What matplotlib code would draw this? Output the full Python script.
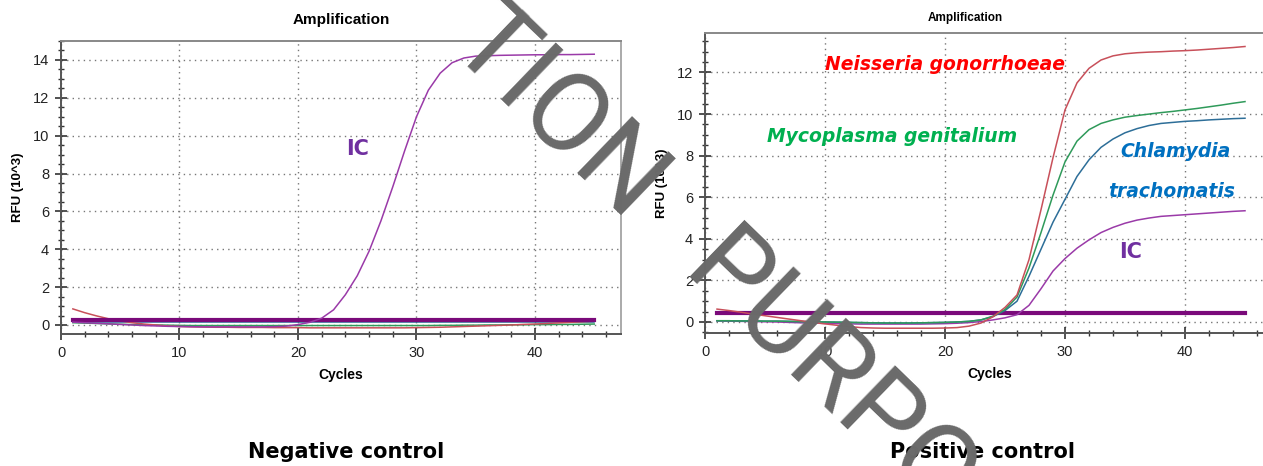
import numpy as np
import matplotlib
matplotlib.use("Agg")
import matplotlib.pyplot as plt
from matplotlib.ticker import MultipleLocator

# ---- data (RFU x10^3 per cycle) ----
cycles = np.arange(1, 46)

neg_ic = [0.15, 0.12, 0.09, 0.06, 0.03, 0.0, -0.03, -0.05, -0.07, -0.08,
          -0.09, -0.1, -0.1, -0.1, -0.1, -0.1, -0.1, -0.09, -0.06, 0.02,
          0.14, 0.36, 0.8, 1.6, 2.6, 3.9, 5.5, 7.3, 9.2, 11.0,
          12.4, 13.3, 13.85, 14.1, 14.2, 14.22, 14.24, 14.25, 14.26, 14.27,
          14.27, 14.28, 14.28, 14.29, 14.3]
neg_red = [0.85, 0.65, 0.48, 0.33, 0.22, 0.12, 0.05, 0.0, -0.05, -0.08,
           -0.1, -0.11, -0.12, -0.12, -0.13, -0.13, -0.13, -0.14, -0.14, -0.14,
           -0.15, -0.15, -0.15, -0.15, -0.15, -0.15, -0.15, -0.15, -0.15, -0.14,
           -0.13, -0.12, -0.1, -0.08, -0.06, -0.04, -0.02, 0.0, 0.03, 0.05,
           0.08, 0.11, 0.14, 0.17, 0.2]
neg_green = [0.12, 0.1, 0.08, 0.06, 0.04, 0.02, 0.01, 0.0, -0.01, -0.02,
             -0.03, -0.03, -0.03, -0.03, -0.03, -0.03, -0.03, -0.03, -0.03, -0.03,
             -0.03, -0.03, -0.03, -0.03, -0.03, -0.03, -0.03, -0.03, -0.03, -0.03,
             -0.03, -0.02, -0.02, -0.01, -0.01, 0.0, 0.0, 0.01, 0.01, 0.02,
             0.02, 0.03, 0.03, 0.04, 0.05]
neg_blue = [0.14] * 45
neg_threshold = 0.28

pos_red = [0.62, 0.55, 0.47, 0.38, 0.3, 0.22, 0.14, 0.06, -0.02, -0.09,
           -0.16, -0.22, -0.27, -0.29, -0.3, -0.3, -0.3, -0.3, -0.3, -0.29,
           -0.27, -0.2, -0.05, 0.25, 0.7, 1.3, 3.0, 5.4, 7.9, 10.2,
           11.5, 12.2, 12.6, 12.8, 12.9, 12.95, 12.98, 13.0, 13.03, 13.05,
           13.08, 13.12, 13.16, 13.2, 13.25]
pos_green = [0.06, 0.06, 0.05, 0.05, 0.04, 0.04, 0.03, 0.02, 0.01, 0.0,
             -0.01, -0.02, -0.03, -0.04, -0.05, -0.05, -0.05, -0.04, -0.03, -0.02,
             0.0, 0.03, 0.1, 0.28, 0.6, 1.2, 2.6, 4.3, 6.1, 7.7,
             8.7, 9.25, 9.55, 9.72, 9.85, 9.93, 10.0, 10.07, 10.13, 10.2,
             10.27, 10.35, 10.43, 10.52, 10.6]
pos_blue = [0.06, 0.06, 0.05, 0.05, 0.04, 0.04, 0.03, 0.02, 0.01, 0.0,
            -0.01, -0.02, -0.03, -0.04, -0.05, -0.05, -0.05, -0.04, -0.03, -0.02,
            0.0, 0.03, 0.1, 0.26, 0.55, 1.0, 2.2, 3.5, 4.8, 5.9,
            7.0, 7.8, 8.4, 8.8, 9.1, 9.3, 9.45, 9.55, 9.6, 9.65,
            9.68, 9.72, 9.75, 9.78, 9.8]
pos_ic = [0.05, 0.04, 0.03, 0.02, 0.01, 0.0, -0.02, -0.04, -0.05, -0.07,
          -0.08, -0.09, -0.1, -0.1, -0.1, -0.1, -0.1, -0.1, -0.09, -0.08,
          -0.06, -0.03, 0.02, 0.1, 0.2, 0.35, 0.8, 1.6, 2.45, 3.05,
          3.55, 3.95, 4.3, 4.55, 4.75, 4.9, 5.0, 5.08, 5.12, 5.16,
          5.2, 5.24, 5.28, 5.32, 5.35]
pos_threshold = 0.42

RED_LINE = "#c8505a"
GREEN_LINE = "#2f9a5a"
BLUE_LINE = "#2d6e98"
IC_LINE = "#9a3aa8"
THRESH = "#7a0a7a"

TICK_FONT = "Liberation Sans"
W, H = 1263, 466


def style_axes(ax, xmax, ylim, yticks, title, title_size, title_pos):
    ax.set_xlim(0, xmax)
    ax.set_ylim(*ylim)
    ax.set_xticks([0, 10, 20, 30, 40])
    ax.set_yticks(yticks)
    ax.xaxis.set_minor_locator(MultipleLocator(2))
    ax.yaxis.set_minor_locator(MultipleLocator(0.5))
    ax.tick_params(which="major", direction="inout", length=9, width=1.2,
                   color="#333333", labelsize=10.5, pad=4)
    ax.tick_params(which="minor", direction="inout", length=5, width=1.0,
                   color="#333333")
    for lab in ax.get_xticklabels() + ax.get_yticklabels():
        lab.set_fontfamily(TICK_FONT)
        lab.set_color("#222222")
    for s in ax.spines.values():
        s.set_color("#555555")
        s.set_linewidth(1.4)
    ax.spines["top"].set_color("#888888")
    ax.spines["right"].set_color("#aaaaaa")
    ax.grid(True, which="major", linestyle=(0, (1, 3)), color="#777777",
            linewidth=1.0)
    ax.set_xlabel("Cycles", fontweight="bold", fontsize=10, family=TICK_FONT,
                  labelpad=6)
    ax.set_ylabel("RFU (10^3)", fontweight="bold", fontsize=9.5, family=TICK_FONT,
                  labelpad=6)
    ax.text(title_pos[0], title_pos[1], title, transform=ax.transAxes, ha="center",
            va="center", fontweight="bold", fontsize=title_size, family=TICK_FONT)


fig = plt.figure(figsize=(W / 100, H / 100), dpi=100)

# ---- negative control ----
ax1 = fig.add_axes([0.0483, 0.2833, 0.4434, 0.6288])
ax1.plot(cycles, neg_green, color=GREEN_LINE, lw=1.1)
ax1.plot(cycles, neg_blue, color=BLUE_LINE, lw=1.1)
ax1.plot(cycles, neg_red, color=RED_LINE, lw=1.1)
ax1.plot(cycles, [neg_threshold] * len(cycles), color=THRESH, lw=3.0)
ax1.plot(cycles, neg_ic, color=IC_LINE, lw=1.1)
style_axes(ax1, 47.26, (-0.475, 15.0), [0, 2, 4, 6, 8, 10, 12, 14],
           "Amplification", 11, (0.5, 1.072))
ax1.text(25.0, 9.3, "IC", color="#7030a0", fontweight="bold", fontsize=15,
         family="DejaVu Sans", ha="center", va="center")

# ---- positive control ----
ax2 = fig.add_axes([0.5582, 0.2854, 0.4513, 0.6438])
ax2.plot(cycles, [pos_threshold] * len(cycles), color=THRESH, lw=3.0)
ax2.plot(cycles, pos_ic, color=IC_LINE, lw=1.1)
ax2.plot(cycles, pos_blue, color=BLUE_LINE, lw=1.1)
ax2.plot(cycles, pos_green, color=GREEN_LINE, lw=1.1)
ax2.plot(cycles, pos_red, color=RED_LINE, lw=1.1)
style_axes(ax2, 47.5, (-0.53, 13.9), [0, 2, 4, 6, 8, 10, 12],
           "Amplification", 8.5, (0.456, 1.05))

label_kw = dict(fontweight="bold", style="italic", fontsize=13.5,
                family="DejaVu Sans", ha="center", va="center")
ax2.text(20.0, 12.4, "Neisseria gonorrhoeae", color="#ff0000", **label_kw)
ax2.text(15.6, 8.9, "Mycoplasma genitalium", color="#00b050", **label_kw)
ax2.text(39.2, 8.2, "Chlamydia", color="#0070c0", **label_kw)
ax2.text(38.9, 6.3, "trachomatis", color="#0070c0", **label_kw)
ax2.text(35.5, 3.35, "IC", color="#7030a0", fontweight="bold", fontsize=15,
         family="DejaVu Sans", ha="center", va="center")

# ---- captions ----
fig.text(346 / W, 1 - 452 / H, "Negative control", fontweight="bold",
         fontsize=15, family="DejaVu Sans", ha="center", va="center")
fig.text(982 / W, 1 - 452 / H, "Positive control", fontweight="bold",
         fontsize=15, family="DejaVu Sans", ha="center", va="center")

# ---- watermark (partly off the canvas, as in the reference) ----
wm_kw = dict(rotation=-44, rotation_mode="anchor", va="baseline", fontsize=80,
             color="#6a6a6a", family="Roboto", fontweight="normal", zorder=20)
fig.text(626 / W, 1 - 224 / H, "TION", ha="right", **wm_kw)
fig.text(680 / W, 1 - 276 / H, "PURPO", ha="left", **wm_kw)

fig.savefig("out.png", dpi=100)
